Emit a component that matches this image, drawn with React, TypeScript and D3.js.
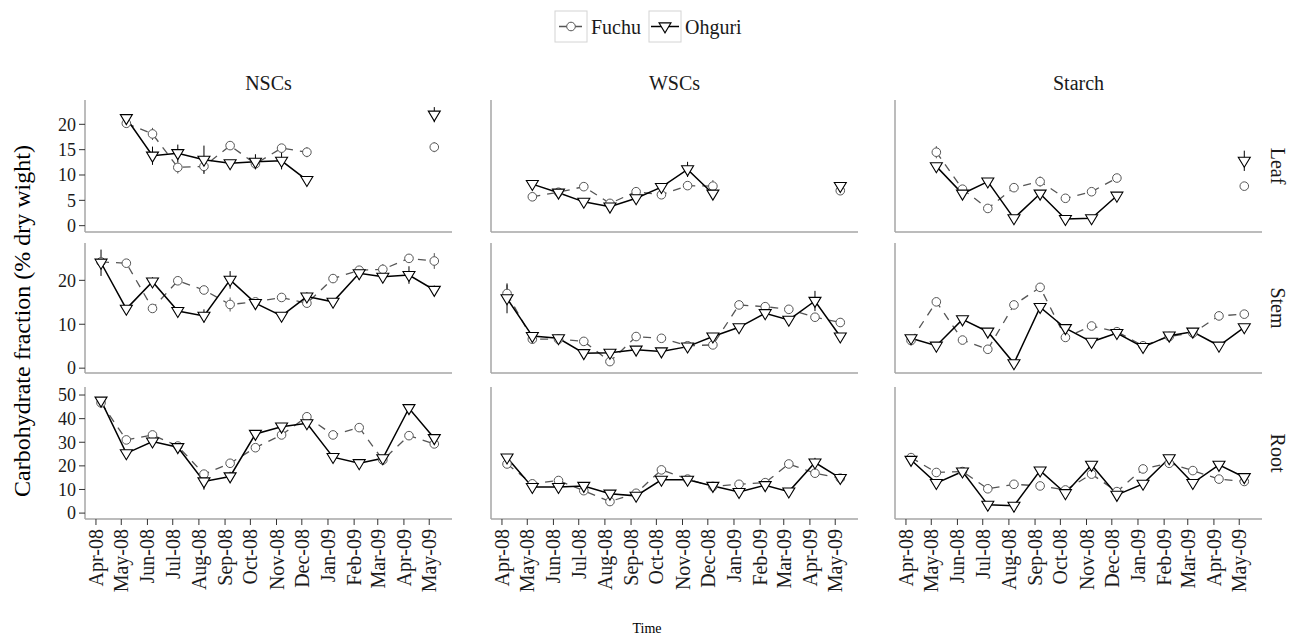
import * as d3 from 'd3';

// sampling dates (roughly the first week of each month)
const sampleDates = [
  '2008-04-07', '2008-05-07', '2008-06-07', '2008-07-07', '2008-08-07', '2008-09-07', '2008-10-07',
  '2008-11-07', '2008-12-07', '2009-01-07', '2009-02-07', '2009-03-07', '2009-04-07', '2009-05-07'
];

const variables = ['NSCs', 'WSCs', 'Starch'];
const organs = ['Leaf', 'Stem', 'Root'];
const cultivars = ['Fuchu', 'Ohguri'];

// Leaf: no samples Apr-08 and Jan-Apr 09
const nscLeafFuchu = [null, 20.2, 18.1, 11.5, 11.7, 15.8, 12.2, 15.3, 14.5, null, null, null, null, 15.5];
const nscLeafOhguri = [null, 21.2, 13.8, 14.3, 13.0, 12.3, 12.6, 12.8, 9.0, null, null, null, null, 21.9];
const wscLeafFuchu = [null, 5.7, 6.6, 7.7, 4.4, 6.7, 6.1, 7.9, 7.8, null, null, null, null, 6.9];
const wscLeafOhguri = [null, 8.2, 6.5, 4.7, 3.75, 5.4, 7.6, 11.1, 6.3, null, null, null, null, 7.8];
const starchLeafFuchu = [null, 14.5, 7.2, 3.4, 7.5, 8.7, 5.4, 6.7, 9.4, null, null, null, null, 7.8];
const starchLeafOhguri = [null, 11.7, 6.3, 8.7, 1.45, 6.3, 1.3, 1.45, 5.9, null, null, null, null, 12.8];

const nscStemFuchu = [24.2, 23.9, 13.6, 19.9, 17.8, 14.5, 15.1, 16.1, 14.8, 20.4, 22.3, 22.5, 25.0, 24.4];
const nscStemOhguri = [24.0, 13.5, 19.7, 13.0, 11.9, 20.1, 14.8, 11.9, 16.3, 15.1, 21.6, 20.8, 21.2, 17.8];
const wscStemFuchu = [17.0, 6.6, 6.6, 6.1, 1.5, 7.2, 6.8, 5.1, 5.3, 14.4, 14.0, 13.4, 11.6, 10.4];
const wscStemOhguri = [15.9, 7.3, 6.8, 3.4, 3.5, 4.2, 3.8, 4.9, 7.2, 9.3, 12.5, 11.0, 15.3, 7.2];
const starchStemFuchu = [6.3, 15.1, 6.4, 4.3, 14.4, 18.4, 7.0, 9.6, 8.3, 5.1, 7.2, 8.0, 11.9, 12.3];
const starchStemOhguri = [6.8, 5.1, 11.1, 8.3, 1.1, 13.9, 9.1, 6.0, 8.0, 4.8, 7.4, 8.3, 5.1, 9.3];

const nscRootFuchu = [46.7, 31.0, 33.1, 28.4, 16.5, 21.1, 27.7, 33.1, 40.8, 33.1, 36.2, 22.5, 32.8, 29.3];
const nscRootOhguri = [47.6, 25.3, 30.3, 27.9, 13.4, 15.5, 33.5, 36.6, 38.0, 23.7, 21.1, 23.2, 44.4, 31.7];
const wscRootFuchu = [20.8, 12.4, 13.8, 9.5, 4.9, 8.4, 18.3, 14.4, 11.3, 12.2, 12.9, 20.8, 16.9, 14.8];
const wscRootOhguri = [23.5, 11.0, 11.0, 11.5, 8.2, 7.3, 14.1, 14.1, 11.5, 8.9, 11.8, 9.1, 21.4, 14.8];
const starchRootFuchu = [23.5, 17.2, 17.6, 10.3, 12.2, 11.5, 9.8, 16.5, 9.1, 18.7, 21.1, 18.0, 14.4, 13.4];
const starchRootOhguri = [22.5, 12.7, 17.6, 3.5, 3.1, 18.0, 8.4, 20.4, 7.7, 12.4, 23.2, 12.7, 20.4, 15.2];

// standard errors
const nscLeafFuchuSe = [0, 0.8, 1.2, 1.2, 1.2, 0.5, 1.0, 0.5, 1.0, 0, 0, 0, 0, 1.0];
const nscLeafOhguriSe = [0, 0.8, 1.8, 1.7, 2.8, 0.6, 1.5, 1.7, 0.5, 0, 0, 0, 0, 1.5];
const wscLeafFuchuSe = [0, 0.4, 0.4, 0.4, 0.4, 0.8, 0.4, 0.8, 1.2, 0, 0, 0, 0, 0.4];
const wscLeafOhguriSe = [0, 0.5, 0.5, 0.5, 0.5, 0.5, 0.5, 1.5, 0.5, 0, 0, 0, 0, 0.8];
const starchLeafFuchuSe = [0, 1.2, 0.8, 0.5, 0.5, 1.0, 0.4, 0.4, 0.5, 0, 0, 0, 0, 0.4];
const starchLeafOhguriSe = [0, 0.5, 0.5, 0.5, 0.3, 0.5, 0.3, 0.3, 0.5, 0, 0, 0, 0, 2.0];

const nscStemFuchuSe = [0.5, 0.7, 0.5, 0.8, 0.6, 1.6, 0.5, 0.5, 0.6, 1.0, 0.6, 1.2, 0.6, 1.8];
const nscStemOhguriSe = [3.0, 0.5, 1.0, 0.5, 1.5, 2.0, 0.5, 0.5, 1.0, 0.8, 1.5, 0.8, 2.0, 1.0];
const wscStemFuchuSe = [2.0, 0.4, 0.4, 0.4, 0.4, 0.5, 0.4, 0.4, 0.4, 0.4, 0.4, 0.4, 0.4, 1.0];
const wscStemOhguriSe = [3.4, 0.5, 0.5, 0.4, 0.4, 0.4, 0.4, 0.4, 0.6, 0.5, 0.6, 0.6, 2.3, 0.5];
const starchStemFuchuSe = [0.4, 0.5, 0.4, 0.5, 0.5, 1.0, 0.4, 0.4, 0.4, 0.4, 0.4, 0.4, 1.0, 0.6];
const starchStemOhguriSe = [0.5, 0.3, 0.5, 0.5, 0.3, 0.6, 0.5, 0.3, 0.5, 0.3, 0.6, 0.6, 0.5, 0.5];

const nscRootFuchuSe = [1.0, 0.8, 0.8, 0.8, 1.0, 0.8, 0.8, 0.8, 0.8, 0.8, 0.8, 0.8, 1.5, 0.8];
const nscRootOhguriSe = [1.5, 0.8, 0.8, 0.8, 3.5, 2.0, 0.8, 0.8, 0.8, 0.8, 1.0, 1.0, 0.8, 1.5];
const wscRootFuchuSe = [0.7, 0.7, 0.7, 0.7, 0.7, 0.7, 0.7, 0.7, 0.7, 0.7, 0.7, 0.7, 0.7, 0.7];
const wscRootOhguriSe = [1.0, 0.7, 0.7, 1.0, 0.7, 0.7, 0.7, 0.7, 0.7, 0.7, 0.7, 0.7, 2.0, 0.8];
const starchRootFuchuSe = [0.7, 0.8, 0.7, 0.7, 0.7, 0.7, 0.7, 0.7, 0.7, 0.7, 0.7, 0.7, 0.7, 0.7];
const starchRootOhguriSe = [0.7, 0.7, 0.7, 0.7, 0.7, 0.7, 0.7, 0.7, 0.7, 0.7, 0.7, 0.7, 0.7, 0.8];

const rowTicks = [[0, 5, 10, 15, 20], [0, 10, 20], [0, 10, 20, 30, 40, 50]];
const rowDomains = [[-1.25, 24.8], [-1.1, 28.5], [-2.5, 53.4]];

const FONT = "'Liberation Serif', 'DejaVu Serif', 'Times New Roman', serif";
const FUCHU = '#555555';
const OHGURI = '#000000';
const AXIS = '#a6a6a6';

const colX = [85, 491, 895];
const panelW = 367;
const rowBox = [[100, 232], [243, 373], [387, 519]];

const values = [
  [[nscLeafFuchu, nscLeafOhguri], [wscLeafFuchu, wscLeafOhguri], [starchLeafFuchu, starchLeafOhguri]],
  [[nscStemFuchu, nscStemOhguri], [wscStemFuchu, wscStemOhguri], [starchStemFuchu, starchStemOhguri]],
  [[nscRootFuchu, nscRootOhguri], [wscRootFuchu, wscRootOhguri], [starchRootFuchu, starchRootOhguri]]
];
const errors = [
  [[nscLeafFuchuSe, nscLeafOhguriSe], [wscLeafFuchuSe, wscLeafOhguriSe], [starchLeafFuchuSe, starchLeafOhguriSe]],
  [[nscStemFuchuSe, nscStemOhguriSe], [wscStemFuchuSe, wscStemOhguriSe], [starchStemFuchuSe, starchStemOhguriSe]],
  [[nscRootFuchuSe, nscRootOhguriSe], [wscRootFuchuSe, wscRootOhguriSe], [starchRootFuchuSe, starchRootOhguriSe]]
];

const triangle = 'M-6,-3.6L6,-3.6L0,6.4Z';

export default function App() {
  const dates = sampleDates.map(s => new Date(s + 'T00:00:00Z'));
  const x = d3.scaleUtc()
    .domain([new Date(Date.UTC(2008, 2, 19)), new Date(Date.UTC(2009, 4, 28))])
    .range([0, panelW]);
  const monthTicks = d3.utcMonth.range(new Date(Date.UTC(2008, 3, 1)), new Date(Date.UTC(2009, 4, 2)));
  const fmt = d3.utcFormat('%b-%y');

  const panels = [];
  organs.forEach((organ, r) => {
    const y = d3.scaleLinear().domain(rowDomains[r]).range([rowBox[r][1], rowBox[r][0]]);
    variables.forEach((v, c) => {
      const x0 = colX[c];
      const series = cultivars.map((cv, k) =>
        dates.map((d, i) => ({ d, v: values[r][c][k][i], e: errors[r][c][k][i] }))
      );
      const line = d3.line<any>()
        .defined(p => p.v != null)
        .x(p => x0 + x(p.d))
        .y(p => y(p.v));
      panels.push(
        <g key={organ + v}>
          {/* axis lines */}
          <line x1={x0} x2={x0} y1={rowBox[r][0]} y2={rowBox[r][1]} stroke={AXIS} strokeWidth={1.5} />
          <line x1={x0} x2={x0 + panelW} y1={rowBox[r][1]} y2={rowBox[r][1]} stroke={AXIS} strokeWidth={1.5} />
          {c === 0 && rowTicks[r].map(t => (
            <g key={t}>
              <line x1={x0 - 6} x2={x0} y1={y(t)} y2={y(t)} stroke="#333" strokeWidth={1} />
              <text x={x0 - 9} y={y(t)} dy="0.35em" textAnchor="end" fontSize={18} style={{ fontFamily: FONT }} fill="#1a1a1a">{t}</text>
            </g>
          ))}
          {r === 2 && monthTicks.map(t => (
            <g key={t.toISOString()}>
              <line x1={x0 + x(t)} x2={x0 + x(t)} y1={rowBox[r][1]} y2={rowBox[r][1] + 6} stroke="#333" strokeWidth={1} />
              <text transform={`translate(${x0 + x(t)},${rowBox[r][1] + 10}) rotate(-90)`} dy="0.35em" textAnchor="end"
                fontSize={20} style={{ fontFamily: FONT }} fill="#1a1a1a">{fmt(t)}</text>
            </g>
          ))}
          {/* error bars */}
          {series.map((s, k) => s.filter(p => p.v != null && p.e > 0).map((p, i) => (
            <line key={k + '-' + i} x1={x0 + x(p.d)} x2={x0 + x(p.d)} y1={y(p.v - p.e)} y2={y(p.v + p.e)}
              stroke={k === 0 ? FUCHU : OHGURI} strokeWidth={1} />
          )))}
          {/* lines */}
          <path d={line(series[0]) || ''} fill="none" stroke={FUCHU} strokeWidth={1.3} strokeDasharray="8,7" />
          <path d={line(series[1]) || ''} fill="none" stroke={OHGURI} strokeWidth={1.5} />
          {/* points */}
          {series[0].filter(p => p.v != null).map((p, i) => (
            <circle key={'f' + i} cx={x0 + x(p.d)} cy={y(p.v)} r={4.3} fill="white" stroke={FUCHU} strokeWidth={1} />
          ))}
          {series[1].filter(p => p.v != null).map((p, i) => (
            <path key={'o' + i} d={triangle} transform={`translate(${x0 + x(p.d)},${y(p.v)})`} fill="white" stroke={OHGURI} strokeWidth={1.1} />
          ))}
        </g>
      );
    });
  });

  return (
    <svg width={1300} height={644} style={{ position: 'absolute', left: 0, top: 0, background: 'white', fontFamily: FONT }}>
      {/* legend */}
      <g>
        <rect x={555} y={11} width={32} height={31} fill="white" stroke="#d4d4d4" strokeWidth={1} />
        <line x1={557} x2={585} y1={26.5} y2={26.5} stroke={FUCHU} strokeWidth={1.3} strokeDasharray="8,7" strokeDashoffset={-2} />
        <circle cx={571} cy={26.5} r={4.3} fill="white" stroke={FUCHU} strokeWidth={1} />
        <text x={591} y={26.5} dy="0.35em" fontSize={20} style={{ fontFamily: FONT }} fill="#1a1a1a">{cultivars[0]}</text>
        <rect x={649} y={11} width={32} height={31} fill="white" stroke="#d4d4d4" strokeWidth={1} />
        <line x1={651} x2={679} y1={26.5} y2={26.5} stroke={OHGURI} strokeWidth={1.5} />
        <path d={triangle} transform="translate(665,26.5)" fill="white" stroke={OHGURI} strokeWidth={1.1} />
        <text x={685} y={26.5} dy="0.35em" fontSize={20} style={{ fontFamily: FONT }} fill="#1a1a1a">{cultivars[1]}</text>
      </g>
      {/* column strips */}
      {variables.map((v, c) => (
        <text key={v} x={colX[c] + panelW / 2} y={83} dy="0.35em" textAnchor="middle" fontSize={20} style={{ fontFamily: FONT }} fill="#1a1a1a">{v}</text>
      ))}
      {/* row strips */}
      {organs.map((o, r) => (
        <text key={o} transform={`translate(1278,${(rowBox[r][0] + rowBox[r][1]) / 2}) rotate(90)`} dy="0.35em" textAnchor="middle"
          fontSize={20} style={{ fontFamily: FONT }} fill="#1a1a1a">{o}</text>
      ))}
      {panels}
      <text transform="translate(22,321) rotate(-90)" dy="0.35em" textAnchor="middle" fontSize={24} style={{ fontFamily: FONT }} fill="#000">Carbohydrate fraction (% dry wight)</text>
      <text x={647} y={628} dy="0.35em" textAnchor="middle" fontSize={14} style={{ fontFamily: FONT }} fill="#000">Time</text>
    </svg>
  );
}
